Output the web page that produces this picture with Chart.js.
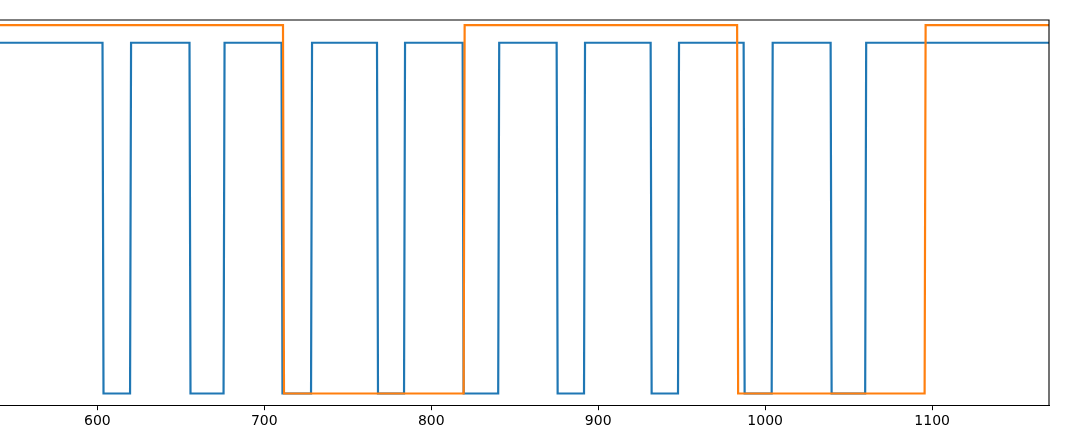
<!DOCTYPE html>
<html>
<head>
<meta charset="utf-8">
<script src="https://cdn.jsdelivr.net/npm/chart.js@4/dist/chart.umd.min.js"></script>
<style>
html, body { margin: 0; padding: 0; background: #ffffff; }
#wrap { width: 1068px; height: 436px; }
</style>
</head>
<body>
<div id="wrap"><canvas id="c" width="1068" height="436"></canvas></div>
<script>
// Series 1 (blue) step points
const blueX = [530, 603.1, 603.7, 619.6, 620.2, 655.2, 655.8, 675.6, 676.2, 710.3, 710.9, 728.0, 728.6,
  767.5, 768.1, 783.7, 784.3, 818.8, 819.4, 840.1, 840.7, 875.1, 875.7, 891.5, 892.1, 931.4, 932.0,
  947.8, 948.4, 987.1, 987.7, 1003.9, 1004.5, 1039.2, 1039.8, 1059.9, 1060.5, 1180];
const blueY = [1, 1, 0, 0, 1, 1, 0, 0, 1, 1, 0, 0, 1,
  1, 0, 0, 1, 1, 0, 0, 1, 1, 0, 0, 1, 1, 0,
  0, 1, 1, 0, 0, 1, 1, 0, 0, 1, 1];
// Series 2 (orange) step points
const orangeX = [530, 711.2, 711.8, 819.4, 820.0, 983.2, 983.8, 1095.5, 1096.1, 1180];
const orangeY = [1.05, 1.05, 0, 0, 1.05, 1.05, 0, 0, 1.05, 1.05];
// X tick labels
const xTicks = [600, 700, 800, 900, 1000, 1100];

const toPts = (xs, ys) => xs.map((x, i) => ({ x: x, y: ys[i] }));

const frame = {
  id: 'frame',
  afterDraw(chart) {
    const { ctx, chartArea: a } = chart;
    ctx.save();
    ctx.strokeStyle = '#000000';
    ctx.lineWidth = 1.1;
    ctx.beginPath();
    ctx.moveTo(a.left - 2, a.top);
    ctx.lineTo(a.right, a.top);
    ctx.lineTo(a.right, a.bottom);
    ctx.stroke();
    ctx.restore();
  }
};

new Chart(document.getElementById('c'), {
  type: 'scatter',
  data: {
    datasets: [
      { data: toPts(blueX, blueY), showLine: true, borderColor: '#1f77b4', borderWidth: 2.2,
        pointRadius: 0, tension: 0, borderJoinStyle: 'miter', fill: false, order: 2 },
      { data: toPts(orangeX, orangeY), showLine: true, borderColor: '#ff7f0e', borderWidth: 2.2,
        pointRadius: 0, tension: 0, borderJoinStyle: 'miter', fill: false, order: 1 }
    ]
  },
  options: {
    responsive: false,
    animation: false,
    events: [],
    layout: { padding: { left: 0, right: 19, top: 20, bottom: 3 } },
    plugins: { legend: { display: false }, tooltip: { enabled: false } },
    scales: {
      x: {
        type: 'linear',
        min: 541.7,
        max: 1170,
        afterBuildTicks: (axis) => { axis.ticks = xTicks.map(v => ({ value: v })); },
        grid: { drawOnChartArea: false, drawTicks: true, tickLength: 5, color: '#000000', tickWidth: 1 },
        border: { display: true, color: '#000000', width: 1.1 },
        ticks: { color: '#000000', padding: 3, maxRotation: 0, autoSkip: false,
          callback: (v) => String(v),
          font: { family: 'DejaVu Sans', size: 14 } }
      },
      y: {
        display: false,
        min: -0.0334,
        max: 1.0648
      }
    }
  },
  plugins: [frame]
});
</script>
</body>
</html>
